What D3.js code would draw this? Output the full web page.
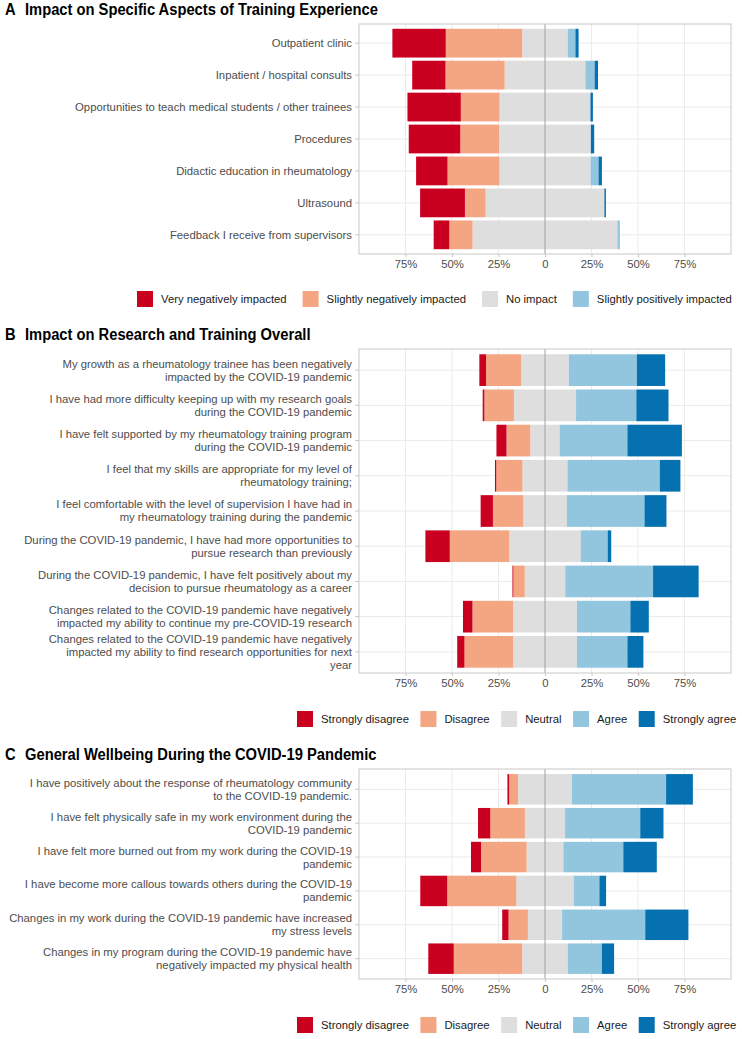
<!DOCTYPE html>
<html>
<head>
<meta charset="utf-8">
<script src="https://cdn.jsdelivr.net/npm/d3@7"></script>
<style>
  html, body { margin: 0; padding: 0; background: #fff; }
  svg { display: block; font-family: "Liberation Sans", Arial, sans-serif; }
</style>
</head>
<body>
<svg id="chart" width="742" height="1039"></svg>
<script>
// ---------------- DATA ----------------
const ticksPct = [-75, -50, -25, 0, 25, 50, 75];
const tickLabels = ["75%", "50%", "25%", "0", "25%", "50%", "75%"];

// Panel A
const titleA = "Impact on Specific Aspects of Training Experience";
const catsA = [
  "Outpatient clinic",
  "Inpatient / hospital consults",
  "Opportunities to teach medical students / other trainees",
  "Procedures",
  "Didactic education in rheumatology",
  "Ultrasound",
  "Feedback I receive from supervisors"
];
const veryNegA   = [28.7, 17.9, 28.7, 27.7, 16.9, 24.1, 8.4];
const slightNegA = [41.1, 31.8, 20.8, 20.9, 27.9, 11.1, 12.5];
const noImpactA  = [24.5, 43.4, 48.9, 49.3, 49.0, 63.9, 77.9];
const slightPosA = [4.1, 5.0, 0.0, 0.0, 4.3, 0.0, 1.3];
const veryPosA   = [1.7, 1.8, 1.3, 1.8, 1.8, 0.8, 0.0];
const legendA = ["Very negatively impacted", "Slightly negatively impacted", "No impact", "Slightly positively impacted"];

// Panel B
const titleB = "Impact on Research and Training Overall";
const catsB = [
  "My growth as a rheumatology trainee has been negatively\nimpacted by the COVID-19 pandemic",
  "I have had more difficulty keeping up with my research goals\nduring the COVID-19 pandemic",
  "I have felt supported by my rheumatology training program\nduring the COVID-19 pandemic",
  "I feel that my skills are appropriate for my level of\nrheumatology training;",
  "I feel comfortable with the level of supervision I have had in\nmy rheumatology training during the pandemic",
  "During the COVID-19 pandemic, I have had more opportunities to\npursue research than previously",
  "During the COVID-19 pandemic, I have felt positively about my\ndecision to pursue rheumatology as a career",
  "Changes related to the COVID-19 pandemic have negatively\nimpacted my ability to continue my pre-COVID-19 research",
  "Changes related to the COVID-19 pandemic have negatively\nimpacted my ability to find research opportunities for next\nyear"
];
const strDisB = [3.6, 0.9, 5.4, 0.7, 6.6, 13.1, 0.5, 5.1, 3.9];
const disB    = [18.9, 15.9, 12.8, 14.1, 16.3, 32.0, 6.1, 21.8, 26.1];
const neuB    = [25.6, 33.4, 15.8, 24.2, 23.4, 38.4, 21.8, 34.4, 34.4];
const agrB    = [36.6, 32.4, 36.4, 49.6, 41.8, 14.5, 47.2, 28.7, 27.1];
const strAgrB = [15.2, 17.3, 29.3, 11.1, 11.8, 1.9, 24.5, 9.9, 8.6];

// Panel C
const titleC = "General Wellbeing During the COVID-19 Pandemic";
const catsC = [
  "I have positively about the response of rheumatology community\nto the COVID-19 pandemic.",
  "I have felt physically safe in my work environment during the\nCOVID-19 pandemic",
  "I have felt more burned out from my work during the COVID-19\npandemic",
  "I have become more callous towards others during the COVID-19\npandemic",
  "Changes in my work during the COVID-19 pandemic have increased\nmy stress levels",
  "Changes in my program during the COVID-19 pandemic have\nnegatively impacted my physical health"
];
const strDisC = [0.9, 6.6, 5.4, 14.5, 3.4, 13.7];
const disC    = [4.8, 18.6, 24.5, 37.1, 10.4, 36.8];
const neuC    = [29.0, 21.6, 19.8, 30.9, 18.4, 24.5];
const agrC    = [50.6, 40.4, 32.2, 13.8, 44.7, 18.3];
const strAgrC = [14.4, 12.5, 18.0, 3.6, 23.2, 6.6];

const legendAgree = ["Strongly disagree", "Disagree", "Neutral", "Agree", "Strongly agree"];
const colors = ["#ca0020", "#f4a582", "#dedede", "#92c5de", "#0571b0"];

// ---------------- DRAW ----------------
const svg = d3.select("#chart");
const x = d3.scaleLinear().domain([-100, 100]).range([359, 731]);
const FS = 11.3;

function panel(opts) {
  const { letter, title, titleY, cats, series, top, bottom, legend, legendX, legendY, legendGap } = opts;
  const g = svg.append("g");

  // title (slightly condensed to match reference)
  const tg = g.append("g").attr("transform", `translate(0,${titleY}) scale(0.945,1)`);
  tg.append("text").attr("x", 5 / 0.945).attr("y", 0).attr("font-size", 15.6).attr("font-weight", "bold")
    .attr("fill", "#000").text(letter);
  tg.append("text").attr("x", 25 / 0.945).attr("y", 0).attr("font-size", 15.6).attr("font-weight", "bold")
    .attr("fill", "#000").text(title);

  const y = d3.scaleBand().domain(cats).range([top, bottom]).paddingInner(0.1).paddingOuter(0.15);

  // grid
  g.append("g").selectAll("line").data(ticksPct.filter(d => d !== 0)).join("line")
    .attr("x1", d => x(d)).attr("x2", d => x(d)).attr("y1", top).attr("y2", bottom)
    .attr("stroke", "#ebebeb").attr("stroke-width", 1);
  g.append("g").selectAll("line").data(cats).join("line")
    .attr("x1", x(-100)).attr("x2", x(100))
    .attr("y1", d => y(d) + y.bandwidth() / 2).attr("y2", d => y(d) + y.bandwidth() / 2)
    .attr("stroke", "#ebebeb").attr("stroke-width", 1);

  // bars: diverging stacked segments (neutral split across zero)
  const segs = [];
  cats.forEach((c, i) => {
    const v = series.map(s => s[i]);
    const halfN = v[2] / 2;
    let left = -halfN;
    segs.push({ c, k: 2, x0: -halfN, x1: halfN });
    segs.push({ c, k: 1, x0: left - v[1], x1: left });
    left -= v[1];
    segs.push({ c, k: 0, x0: left - v[0], x1: left });
    let right = halfN;
    segs.push({ c, k: 3, x0: right, x1: right + v[3] });
    right += v[3];
    segs.push({ c, k: 4, x0: right, x1: right + v[4] });
  });
  g.append("g").selectAll("rect").data(segs.filter(s => s.x1 - s.x0 > 0)).join("rect")
    .attr("x", d => x(d.x0)).attr("width", d => x(d.x1) - x(d.x0))
    .attr("y", d => y(d.c)).attr("height", y.bandwidth())
    .attr("fill", d => colors[d.k]);

  // zero line
  g.append("line").attr("x1", x(0)).attr("x2", x(0)).attr("y1", top).attr("y2", bottom)
    .attr("stroke", "#a0a0a0").attr("stroke-width", 1);

  // border
  g.append("rect").attr("x", x(-100)).attr("y", top).attr("width", x(100) - x(-100)).attr("height", bottom - top)
    .attr("fill", "none").attr("stroke", "#c8c8c8").attr("stroke-width", 1);

  // x axis
  const xa = g.append("g").attr("transform", `translate(0,${bottom})`)
    .call(d3.axisBottom(x).tickValues(ticksPct).tickFormat((d, i) => tickLabels[i]).tickSize(3).tickPadding(3));
  xa.select(".domain").remove();
  xa.selectAll("line").attr("stroke", "#c8c8c8");
  xa.selectAll("text").attr("font-size", FS).attr("fill", "#4d4d4d").attr("font-family", "Liberation Sans, Arial, sans-serif");

  // y axis
  const ya = g.append("g").attr("transform", `translate(${x(-100)},0)`)
    .call(d3.axisLeft(y).tickSize(4).tickPadding(3).tickFormat(""));
  ya.select(".domain").remove();
  ya.selectAll("line").attr("stroke", "#c8c8c8");
  ya.selectAll(".tick").each(function (d) {
    const lines = d.split("\n");
    const t = d3.select(this).select("text");
    t.text(null).attr("font-size", FS).attr("fill", "#4d4d4d").attr("font-family", "Liberation Sans, Arial, sans-serif")
      .attr("dy", null);
    const lh = 13;
    const off = -(lines.length - 1) * lh / 2;
    lines.forEach((ln, j) => {
      t.append("tspan").attr("x", -7).attr("y", off + j * lh).attr("dy", "0.35em").text(ln);
    });
  });

  // legend (flow layout)
  const lg = g.append("g").attr("transform", `translate(${legendX},${legendY})`);
  let cx = 0;
  legend.forEach((lab, i) => {
    lg.append("rect").attr("x", cx).attr("y", -8).attr("width", 16).attr("height", 16).attr("fill", colors[i]);
    const tt = lg.append("text").attr("x", cx + 24).attr("y", 0).attr("dy", "0.35em")
      .attr("font-size", FS).attr("fill", "#1a1a1a").text(lab);
    cx += 24 + tt.node().getComputedTextLength() + legendGap;
  });
}

panel({ letter: "A", title: titleA, titleY: 15, cats: catsA,
  series: [veryNegA, slightNegA, noImpactA, slightPosA, veryPosA],
  top: 24, bottom: 254, legend: legendA, legendX: 137, legendY: 299, legendGap: 16 });

panel({ letter: "B", title: titleB, titleY: 340, cats: catsB,
  series: [strDisB, disB, neuB, agrB, strAgrB],
  top: 349, bottom: 673, legend: legendAgree, legendX: 297, legendY: 719, legendGap: 11.5 });

panel({ letter: "C", title: titleC, titleY: 760, cats: catsC,
  series: [strDisC, disC, neuC, agrC, strAgrC],
  top: 769, bottom: 979, legend: legendAgree, legendX: 297, legendY: 1025, legendGap: 11.5 });
</script>
</body>
</html>
